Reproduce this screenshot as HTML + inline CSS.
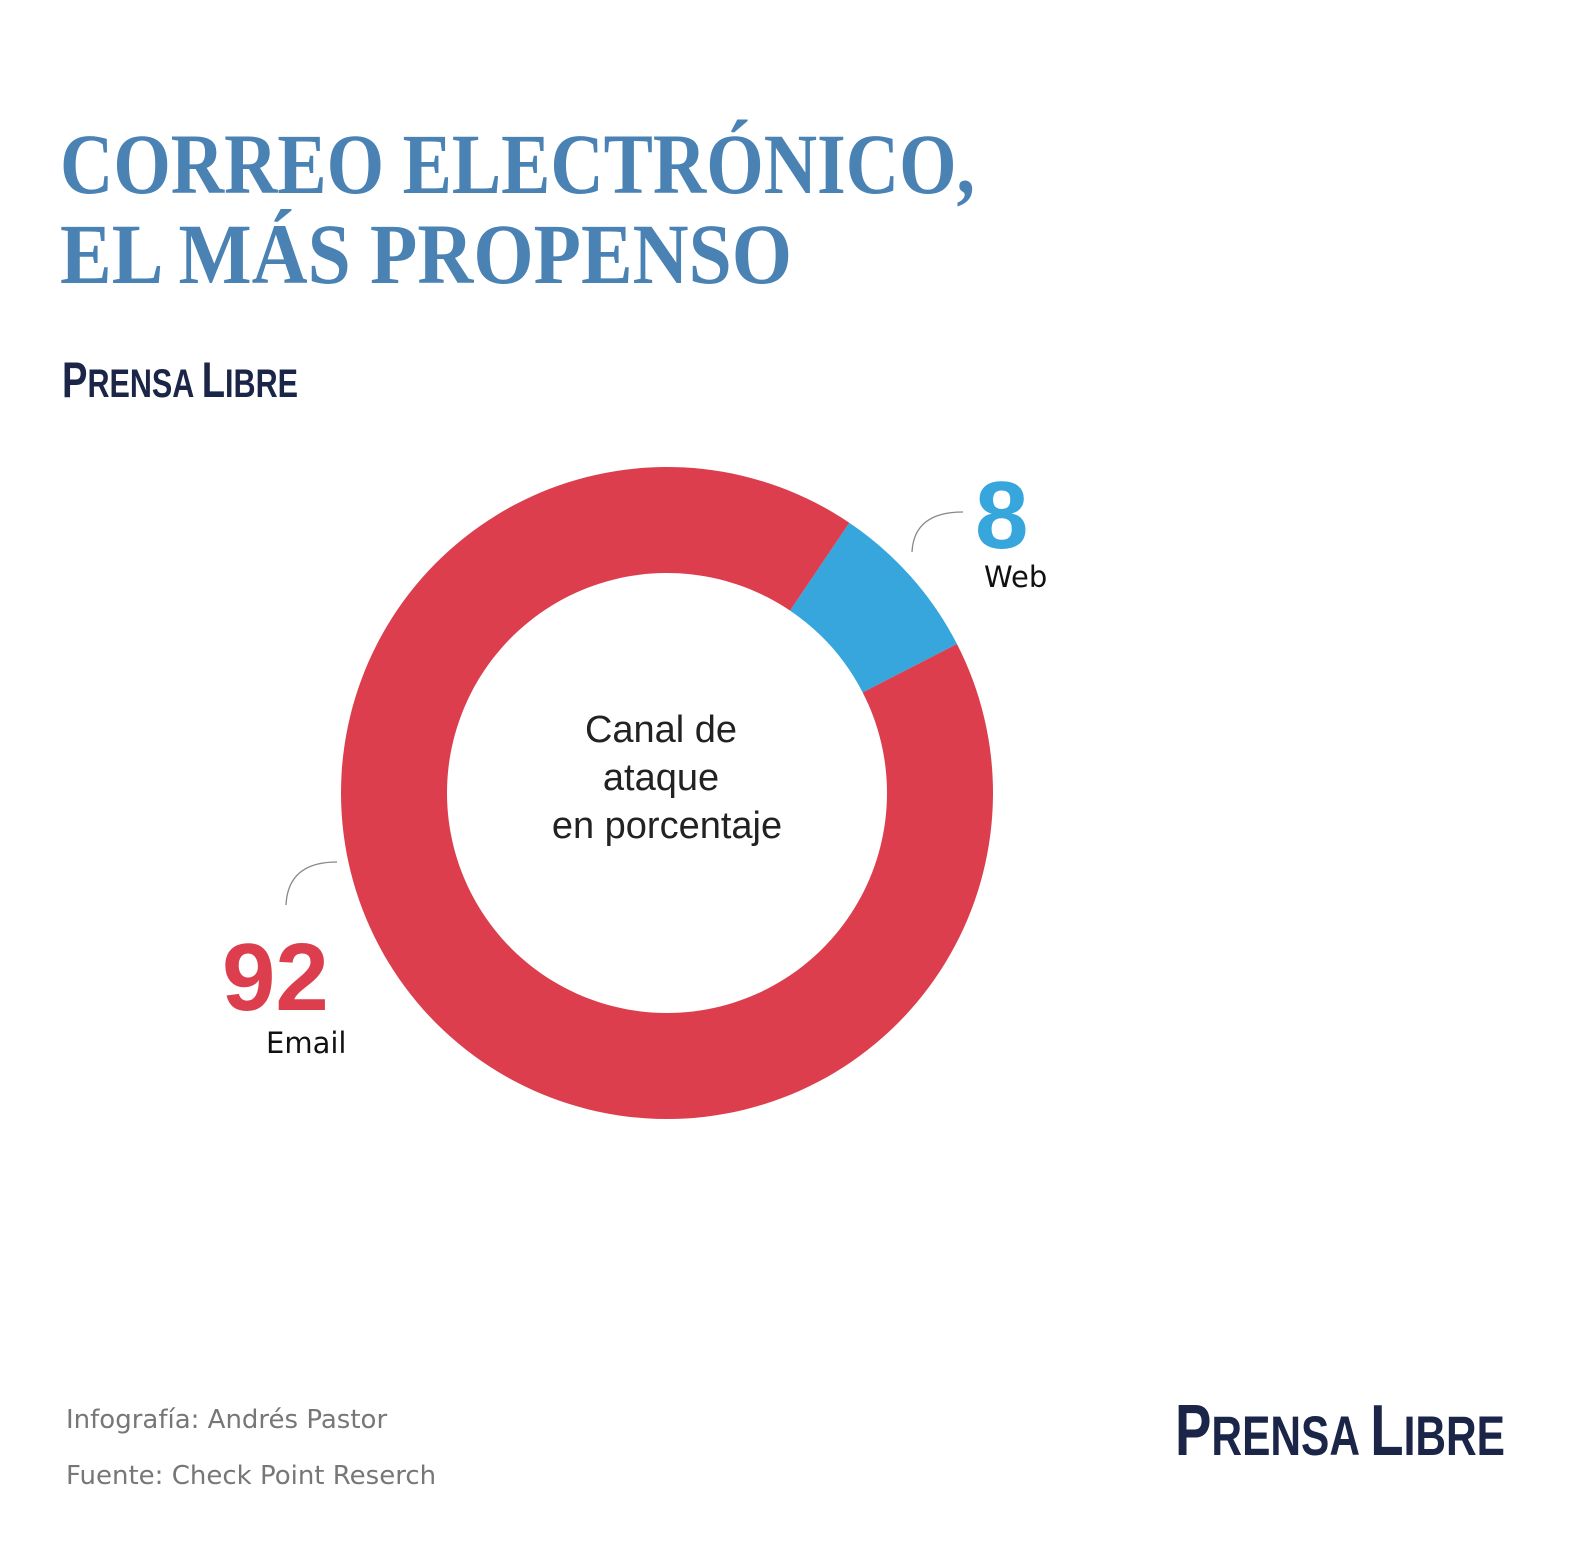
<!DOCTYPE html>
<html><head><meta charset="utf-8"><style>
html,body{margin:0;padding:0;background:#fff;}
svg{display:block;}
</style></head><body>
<svg width="1583" height="1567" viewBox="0 0 1583 1567" xmlns="http://www.w3.org/2000/svg">
<rect width="1583" height="1567" fill="#fff"/>
<g font-family="Liberation Serif, serif" font-weight="bold" font-size="86" fill="#4a82b4">
<text x="60" y="193" textLength="915" lengthAdjust="spacingAndGlyphs">CORREO ELECTRÓNICO,</text>
<text x="60" y="283" textLength="732" lengthAdjust="spacingAndGlyphs">EL MÁS PROPENSO</text>
</g>
<text x="62" y="397" font-family="Liberation Sans Narrow, Liberation Sans, sans-serif" font-weight="bold" fill="#1b2548" textLength="236" lengthAdjust="spacingAndGlyphs"><tspan font-size="50">P</tspan><tspan font-size="40">RENSA </tspan><tspan font-size="50">L</tspan><tspan font-size="40">IBRE</tspan></text>
<g id="donut"></g>
<g fill="none" stroke="#888" stroke-width="1.3">
<path d="M912 552 Q914 512 963 512"/>
<path d="M286 905 Q288 862 337 862"/>
</g>
<text x="975" y="548" font-family="Liberation Sans, sans-serif" font-weight="bold" font-size="96" fill="#36a6dd">8</text>
<text x="984" y="587" font-family="DejaVu Sans, sans-serif" font-size="29" fill="#111">Web</text>
<text x="222" y="1010" font-family="Liberation Sans, sans-serif" font-weight="bold" font-size="96" fill="#dc3e4e">92</text>
<text x="266" y="1053" font-family="DejaVu Sans, sans-serif" font-size="29" fill="#111">Email</text>
<g font-family="Liberation Sans, sans-serif" font-size="38" fill="#222" text-anchor="middle">
<text x="661" y="742">Canal de</text>
<text x="661" y="790">ataque</text>
<text x="667" y="838">en porcentaje</text>
</g>
<g font-family="DejaVu Sans, sans-serif" font-size="26" fill="#777">
<text x="66" y="1428">Infografía: Andrés Pastor</text>
<text x="66" y="1484">Fuente: Check Point Reserch</text>
</g>
<text x="1175" y="1455" font-family="Liberation Sans Narrow, Liberation Sans, sans-serif" font-weight="bold" fill="#1b2548" textLength="330" lengthAdjust="spacingAndGlyphs"><tspan font-size="72">P</tspan><tspan font-size="56">RENSA </tspan><tspan font-size="72">L</tspan><tspan font-size="56">IBRE</tspan></text>
</svg>
<script>
const categories = ["Web", "Email"];
const values = [8, 92];
const colors = ["#36a6dd", "#dc3e4e"];
const startDeg = 34;
(function(){
  const g = document.getElementById('donut');
  const cx = 667, cy = 793, R = 326, r = 220;
  const total = values.reduce((a,b)=>a+b,0);
  let a0 = startDeg;
  const pt = (rad, deg) => { const t = deg*Math.PI/180; return [cx + rad*Math.sin(t), cy - rad*Math.cos(t)]; };
  values.forEach((v,i)=>{
    const a1 = a0 + v/total*360;
    const large = (a1-a0) > 180 ? 1 : 0;
    const p1 = pt(R,a0), p2 = pt(R,a1), p3 = pt(r,a1), p4 = pt(r,a0);
    const d = `M${p1[0]} ${p1[1]} A${R} ${R} 0 ${large} 1 ${p2[0]} ${p2[1]} L${p3[0]} ${p3[1]} A${r} ${r} 0 ${large} 0 ${p4[0]} ${p4[1]} Z`;
    const el = document.createElementNS('http://www.w3.org/2000/svg','path');
    el.setAttribute('d', d);
    el.setAttribute('fill', colors[i]);
    
    
    g.appendChild(el);
    a0 = a1;
  });
})();
</script>
</body></html>
